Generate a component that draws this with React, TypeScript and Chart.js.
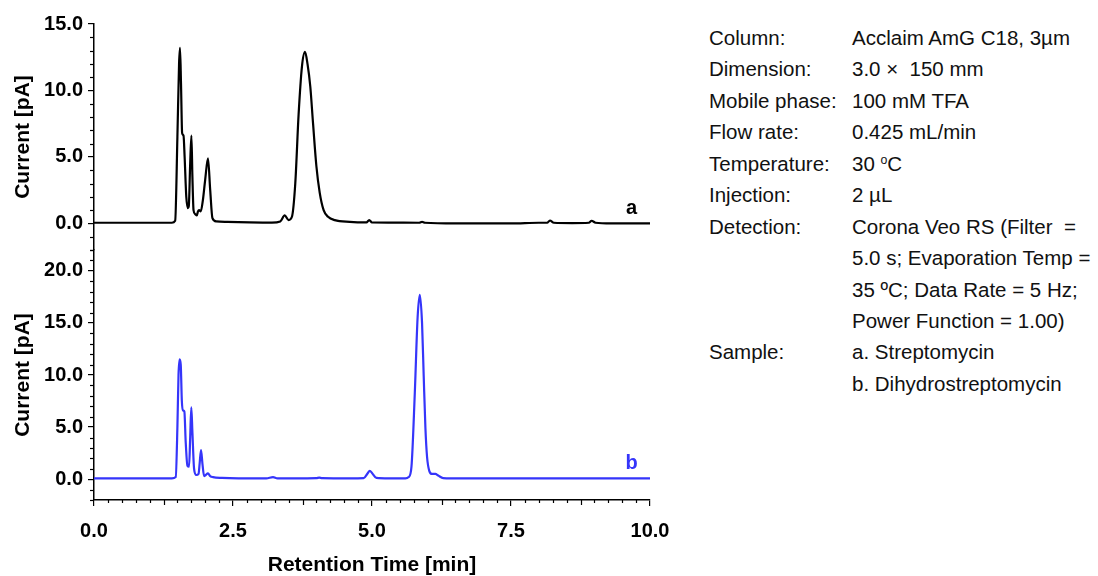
import React, { useEffect, useRef } from "react";
import { Chart, registerables } from "chart.js";

Chart.register(...registerables);

// ---- Data ----
const TIMES_A = [0, 0.5, 1.0, 1.4, 1.46, 1.5, 1.53, 1.547, 1.565, 1.585, 1.61, 1.63, 1.66, 1.69, 1.705, 1.73, 1.752, 1.77, 1.79, 1.82, 1.85, 1.87, 1.89, 1.92, 1.96, 2.0, 2.05, 2.09, 2.13, 2.2, 2.4, 2.8, 3.2, 3.35, 3.43, 3.5, 3.56, 3.62, 3.68, 3.74, 3.795, 3.84, 3.89, 3.94, 4.0, 4.06, 4.13, 4.21, 4.33, 4.6, 4.9, 4.95, 5.0, 5.3, 5.85, 5.9, 5.95, 6.5, 7.0, 7.5, 8.0, 8.15, 8.2, 8.27, 8.6, 8.9, 8.95, 9.02, 9.3, 9.7, 10.0];
const CURRENT_A = [0.05, 0.05, 0.05, 0.05, 0.2, 6.5, 12.0, 13.2, 10.5, 6.8, 6.6, 5.0, 2.0, 1.15, 1.3, 4.5, 6.6, 3.5, 1.0, 0.7, 0.6, 0.9, 1.0, 0.9, 1.8, 3.3, 4.9, 2.5, 0.4, 0.15, 0.12, 0.08, 0.06, 0.15, 0.6, 0.25, 0.5, 3.0, 8.2, 11.8, 12.9, 12.0, 10.3, 7.5, 4.3, 2.3, 1.0, 0.5, 0.25, 0.12, 0.08, 0.25, 0.07, 0.06, 0.05, 0.12, 0.05, 0.0, 0.0, 0.0, 0.05, 0.05, 0.22, 0.05, 0.02, 0.05, 0.2, 0.05, 0.0, 0.0, 0.0];

const TIMES_B = [0, 0.5, 1.0, 1.4, 1.47, 1.5, 1.52, 1.54, 1.56, 1.58, 1.6, 1.625, 1.65, 1.68, 1.71, 1.73, 1.75, 1.77, 1.8, 1.84, 1.88, 1.9, 1.925, 1.95, 1.98, 2.0, 2.05, 2.09, 2.14, 2.3, 2.6, 3.1, 3.22, 3.3, 3.6, 4.0, 4.05, 4.1, 4.6, 4.85, 4.92, 4.96, 5.0, 5.08, 5.3, 5.6, 5.66, 5.71, 5.77, 5.82, 5.86, 5.9, 5.93, 5.96, 5.99, 6.03, 6.08, 6.14, 6.19, 6.28, 6.6, 7.5, 8.5, 9.5, 10.0];
const CURRENT_B = [0.07, 0.07, 0.07, 0.07, 0.2, 5.0, 10.0, 11.5, 11.0, 7.5, 6.6, 6.5, 3.5, 1.3, 1.2, 4.0, 6.9, 4.5, 1.0, 0.4, 0.5, 1.5, 2.8, 1.5, 0.3, 0.35, 0.55, 0.3, 0.2, 0.12, 0.08, 0.08, 0.2, 0.08, 0.08, 0.1, 0.15, 0.1, 0.08, 0.1, 0.55, 0.8, 0.6, 0.12, 0.08, 0.08, 0.2, 1.2, 8.3, 15.5, 17.7, 15.0, 9.9, 5.0, 2.15, 0.8, 0.5, 0.5, 0.35, 0.1, 0.07, 0.07, 0.07, 0.07, 0.07];

const X_MAJOR = [0, 2.5, 5, 7.5, 10];
const X_MID = [1.25, 3.75, 6.25, 8.75];
const X_MINOR_STEP = 0.25;
const YA_MAJOR = [0, 5, 10, 15];
const YB_MAJOR = [0, 5, 10, 15, 20];
const Y_MINOR_STEP = 1;

const SERIES_TAGS = ["a", "b"];

const PANEL_LABELS = ["Column:", "Dimension:", "Mobile phase:", "Flow rate:", "Temperature:", "Injection:", "Detection:", "", "", "", "Sample:", ""];
const PANEL_VALUES: React.ReactNode[] = [
  "Acclaim AmG C18, 3\u00b5m",
  "3.0 \u00d7  150 mm",
  "100 mM TFA",
  "0.425 mL/min",
  <>30 <sup style={{ fontSize: "0.6em", verticalAlign: "0.55em", lineHeight: 0 }}>o</sup>C</>,
  "2 \u00b5L",
  "Corona Veo RS (Filter  =",
  "5.0 s; Evaporation Temp =",
  "35 \u00baC; Data Rate = 5 Hz;",
  "Power Function = 1.00)",
  "a. Streptomycin",
  "b. Dihydrostreptomycin",
];

const BLUE = "#3535fa";
const FONT = "'Liberation Sans', Arial, Helvetica, sans-serif";

export default function App() {
  const ref = useRef<HTMLCanvasElement | null>(null);

  useEffect(() => {
    const canvas = ref.current;
    if (!canvas) return;
    const tickFont = { family: FONT, size: 20, weight: "bold" as const };
    const titleFont = { family: FONT, size: 21, weight: "bold" as const, lineHeight: 1 };

    const minorTicks = {
      id: "minorTicks",
      afterDraw(chart: any) {
        const ctx = chart.ctx;
        ctx.save();
        ctx.strokeStyle = "#000";
        ctx.lineWidth = 1.2;
        const xs = chart.scales.x;
        for (let v = xs.min; v <= xs.max + 1e-9; v += X_MINOR_STEP) {
          const r = Math.round(v * 100) / 100;
          if (X_MAJOR.includes(r)) continue;
          const len = X_MID.includes(r) ? 5 : 3;
          const px = Math.round(xs.getPixelForValue(r)) + 0.5;
          ctx.beginPath();
          ctx.moveTo(px, xs.top);
          ctx.lineTo(px, xs.top + len);
          ctx.stroke();
        }
        for (const id of ["yA", "yB"]) {
          const s = chart.scales[id];
          for (let v = Math.ceil(s.min); v <= s.max; v += Y_MINOR_STEP) {
            if (v % 5 === 0) continue;
            const py = Math.round(s.getPixelForValue(v)) + 0.5;
            ctx.beginPath();
            ctx.moveTo(s.right, py);
            ctx.lineTo(s.right - 4, py);
            ctx.stroke();
          }
        }
        // series tags
        ctx.font = `bold 20px ${FONT}`;
        ctx.textAlign = "center";
        ctx.textBaseline = "middle";
        const tagAxes = ["yA", "yB"];
        const tagColors = ["#000", BLUE];
        const tagY = [1.15, 1.55];
        SERIES_TAGS.forEach((t, i) => {
          ctx.fillStyle = tagColors[i];
          ctx.fillText(t, xs.getPixelForValue(9.67), chart.scales[tagAxes[i]].getPixelForValue(tagY[i]));
        });
        ctx.restore();
      },
    };

    const yCommon = (major: number[], min: number, max: number, weight: number) => ({
      type: "linear" as const,
      position: "left" as const,
      stack: "y",
      stackWeight: weight,
      min,
      max,
      afterBuildTicks: (s: any) => {
        s.ticks = major.map((v) => ({ value: v }));
      },
      afterFit: (s: any) => {
        s.width = 94;
      },
      ticks: {
        font: tickFont,
        color: "#000",
        padding: 5,
        callback: (v: any) => Number(v).toFixed(1),
      },
      grid: { drawOnChartArea: false, tickLength: 6, color: "#000", lineWidth: 1.2 },
      border: { display: true, color: "#000", width: 1.5 },
      title: { display: true, text: "Current [pA]", font: titleFont, color: "#000", padding: { top: 13, bottom: 0 } },
    });

    const chart = new Chart(canvas, {
      type: "line",
      data: {
        datasets: [
          {
            data: TIMES_A.map((t, i) => ({ x: t, y: CURRENT_A[i] })),
            yAxisID: "yA",
            borderColor: "#000",
            borderWidth: 2.2,
            pointRadius: 0,
            cubicInterpolationMode: "monotone",
          },
          {
            data: TIMES_B.map((t, i) => ({ x: t, y: CURRENT_B[i] })),
            yAxisID: "yB",
            borderColor: BLUE,
            borderWidth: 2.2,
            pointRadius: 0,
            cubicInterpolationMode: "monotone",
          },
        ],
      },
      options: {
        animation: false,
        responsive: false,
        maintainAspectRatio: false,
        layout: { padding: { top: 24, right: 50, bottom: 0, left: 0 } },
        plugins: { legend: { display: false }, tooltip: { enabled: false } },
        scales: {
          yB: yCommon(YB_MAJOR, -2, 22, 250),
          yA: yCommon(YA_MAJOR, -2, 15, 226),
          x: {
            type: "linear",
            position: "bottom",
            min: 0,
            max: 10,
            afterBuildTicks: (s: any) => {
              s.ticks = X_MAJOR.map((v) => ({ value: v }));
            },
            afterFit: (s: any) => {
              s.height = 76;
            },
            ticks: {
              font: tickFont,
              color: "#000",
              padding: 13,
              maxRotation: 0,
              autoSkip: false,
              callback: (v: any) => Number(v).toFixed(1),
            },
            grid: { drawOnChartArea: false, tickLength: 6, color: "#000", lineWidth: 1.2 },
            border: { display: true, color: "#000", width: 1.5 },
            title: { display: true, text: "Retention Time [min]", font: titleFont, color: "#000", padding: { top: 0, bottom: 0 } },
          },
        },
      } as any,
      plugins: [minorTicks],
    });
    return () => chart.destroy();
  }, []);

  const lineH = 31.45;
  const panelFont = 20.5;
  return (
    <div style={{ position: "absolute", left: 0, top: 0, width: 1098, height: 576, background: "#fff", overflow: "hidden" }}>
      <canvas ref={ref} width={700} height={576} style={{ position: "absolute", left: 0, top: 0 }} />
      <div style={{ position: "absolute", left: 709, top: 22, fontFamily: FONT, fontSize: panelFont, lineHeight: `${lineH}px`, color: "#111" }}>
        {PANEL_LABELS.map((l, i) => (
          <div key={i} style={{ height: lineH, whiteSpace: "pre" }}>{l}</div>
        ))}
      </div>
      <div style={{ position: "absolute", left: 852, top: 22, fontFamily: FONT, fontSize: panelFont, lineHeight: `${lineH}px`, color: "#111" }}>
        {PANEL_VALUES.map((v, i) => (
          <div key={i} style={{ height: lineH, whiteSpace: "pre" }}>{v}</div>
        ))}
      </div>
    </div>
  );
}
